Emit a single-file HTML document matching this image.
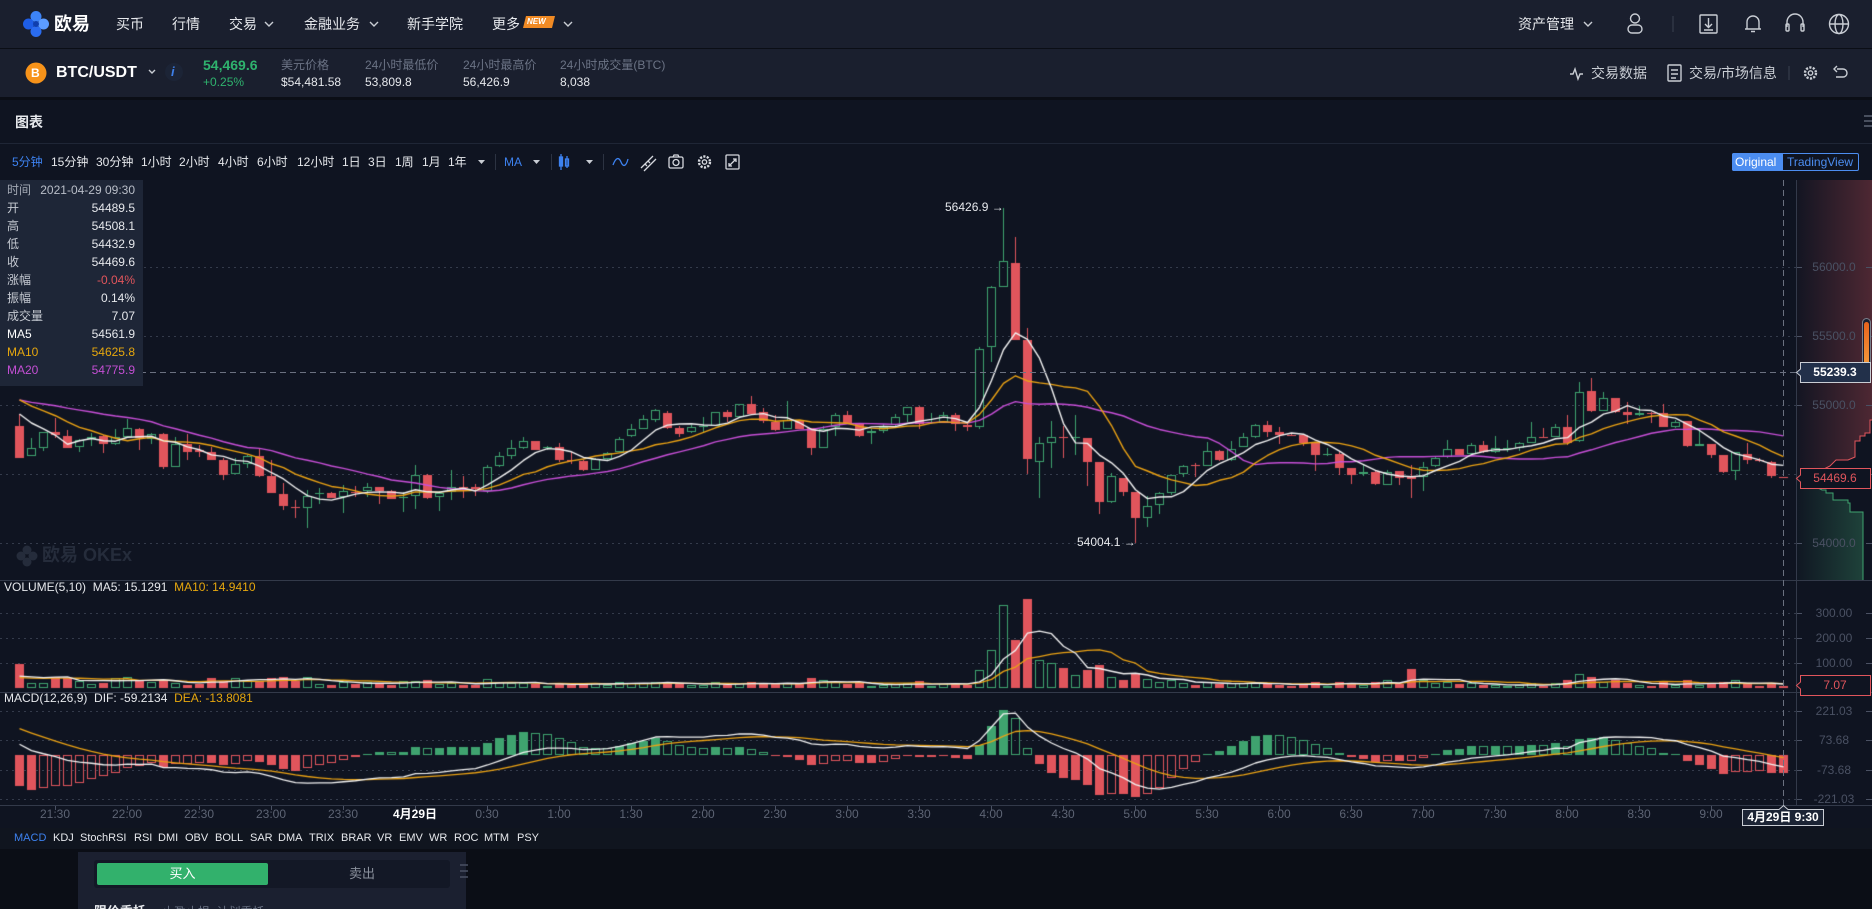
<!DOCTYPE html>
<html><head><meta charset="utf-8">
<style>
*{margin:0;padding:0;box-sizing:border-box}
html,body{width:1872px;height:909px;overflow:hidden}
body{background:#0f1421;font-family:"Liberation Sans","Noto Sans CJK SC",sans-serif;position:relative;color:#e6e8ec}
.t{position:absolute;white-space:nowrap;z-index:5}
.f12{font-size:12px;line-height:16px;height:16px}
.f11{font-size:11px;line-height:16px;height:16px}
.f14{font-size:14px;line-height:18px;height:18px}
.blk{position:absolute}
svg.ic{position:absolute;z-index:5;overflow:visible}
.gray{color:#6b7385}
.ax{color:#4a5163;width:68px;text-align:center;left:1800px}
.tm{color:#5d6474;width:60px;text-align:center;top:806px}
</style></head><body>

<!-- top nav -->
<div class="blk" style="left:0;top:0;width:1872px;height:48px;background:#1a1f2e"></div>
<div class="blk" style="left:0;top:48px;width:1872px;height:1px;background:#0b0e16"></div>
<div class="blk" style="left:0;top:49px;width:1872px;height:48px;background:#1a1f2e"></div>
<div class="blk" style="left:0;top:97px;width:1872px;height:3px;background:#0b0e16"></div>
<div class="blk" style="left:0;top:143px;width:1872px;height:1px;background:#1f2636"></div>

<svg class="ic" style="left:22px;top:10px" width="28" height="28" viewBox="0 0 28 28">
<circle cx="14" cy="6.5" r="5.5" fill="#3d84f7"/><circle cx="6.5" cy="14" r="5.5" fill="#1e5ee6"/><circle cx="21.5" cy="14" r="5.5" fill="#5c9cff"/><circle cx="14" cy="21.5" r="5.5" fill="#2a6cf0"/><circle cx="14" cy="14" r="3" fill="#0f3fae"/>
</svg>
<div class="t" style="left:54px;top:13px;font-size:18px;line-height:22px;font-weight:bold;color:#fff">欧易</div>
<div class="t f14" style="left:116px;top:15px">买币</div>
<div class="t f14" style="left:172px;top:15px">行情</div>
<div class="t f14" style="left:229px;top:15px">交易</div>
<div class="t f14" style="left:304px;top:15px">金融业务</div>
<div class="t f14" style="left:407px;top:15px">新手学院</div>
<div class="t f14" style="left:492px;top:15px">更多</div>
<svg class="ic" style="left:523px;top:16px" width="32" height="12"><path d="M3 0H32L29 12H0Z" fill="#f08a24"/></svg>
<div class="t" style="left:527px;top:17px;font-size:8px;line-height:10px;font-weight:bold;font-style:italic;color:#fff">NEW</div>
<svg class="ic" style="left:0;top:0" width="1872" height="100">
<g fill="none" stroke="#c9cdd4" stroke-width="1.4">
<path d="M265 22l4 4 4-4"/><path d="M370 22l4 4 4-4"/><path d="M564 22l4 4 4-4"/><path d="M1584 22l4 4 4-4"/>
<circle cx="1635" cy="18.5" r="4.5"/><rect x="1628" y="25" width="14" height="8" rx="4"/>
<rect x="1700" y="15" width="17" height="18" rx="1"/><path d="M1708.5 18v9M1705 24l3.5 3.5 3.5-3.5M1704 30h9"/>
<path d="M1745 29h16M1747 29v-7a6 6 0 0 1 12 0v7M1751 31.5h4"/>
<path d="M1787 27v-5a8 8 0 0 1 16 0v5"/><rect x="1786" y="24" width="3" height="7" rx="1"/><rect x="1801" y="24" width="3" height="7" rx="1"/>
<circle cx="1839" cy="24" r="9.5"/><ellipse cx="1839" cy="24" rx="4" ry="9.5"/><path d="M1829.5 24h19"/>
<path d="M149 70l3 3 3-3" />
<path d="M1570 74h3l2-5 3 10 2-5h3"/>
<rect x="1668" y="65" width="13" height="16" rx="1"/><path d="M1671 70h7M1671 74h7M1671 78h5"/>
<circle cx="1810.5" cy="73" r="5.5" stroke-dasharray="2.2 1.3" stroke-width="2.4"/><circle cx="1810.5" cy="73" r="2.2"/>
<path d="M1837 69h6a4 4 0 0 1 0 8h-7M1837 66l-3 3 3 3"/>
</g>
<path d="M1673 16v16M1789 66v14" stroke="#3a4150" stroke-width="1"/>
<circle cx="36" cy="73" r="10.5" fill="#f7931a"/>
<circle cx="174" cy="72" r="9" fill="#1c2436"/>
</svg>
<div class="t f14" style="left:1518px;top:15px">资产管理</div>
<div class="t" style="left:31px;top:65px;font-size:12px;line-height:16px;font-weight:bold;color:#fff">B</div>
<div class="t" style="left:56px;top:63px;font-size:16px;line-height:20px;font-weight:bold;color:#fff">BTC/USDT</div>
<div class="t" style="left:171px;top:64px;font-size:13px;line-height:16px;font-weight:bold;font-style:italic;color:#3d7fe8">i</div>
<div class="t" style="left:203px;top:56px;font-size:14px;line-height:18px;font-weight:bold;color:#2fb36e">54,469.6</div>
<div class="t f12" style="left:203px;top:74px;color:#2fb36e">+0.25%</div>
<div class="t f12 gray" style="left:281px;top:57px">美元价格</div>
<div class="t f12" style="left:281px;top:74px">$54,481.58</div>
<div class="t f12 gray" style="left:365px;top:57px">24小时最低价</div>
<div class="t f12" style="left:365px;top:74px">53,809.8</div>
<div class="t f12 gray" style="left:463px;top:57px">24小时最高价</div>
<div class="t f12" style="left:463px;top:74px">56,426.9</div>
<div class="t f12 gray" style="left:560px;top:57px">24小时成交量(BTC)</div>
<div class="t f12" style="left:560px;top:74px">8,038</div>
<div class="t f14" style="left:1591px;top:64px;color:#c9cdd4">交易数据</div>
<div class="t f14" style="left:1689px;top:64px;color:#c9cdd4">交易/市场信息</div>

<!-- chart header -->
<div class="t" style="left:15px;top:113px;font-size:14px;line-height:18px;font-weight:bold;color:#e6e8ec">图表</div>
<svg class="ic" style="left:1862px;top:114px" width="10" height="14"><path d="M2 2h10M2 7h10M2 12h10" stroke="#5c6373" stroke-width="1.5"/></svg>

<!-- toolbar -->
<div class="t f12" style="left:12px;top:154px;color:#3d82f0">5分钟</div>
<div class="t f12" style="left:51px;top:154px">15分钟</div>
<div class="t f12" style="left:96px;top:154px">30分钟</div>
<div class="t f12" style="left:141px;top:154px">1小时</div>
<div class="t f12" style="left:179px;top:154px">2小时</div>
<div class="t f12" style="left:218px;top:154px">4小时</div>
<div class="t f12" style="left:257px;top:154px">6小时</div>
<div class="t f12" style="left:297px;top:154px">12小时</div>
<div class="t f12" style="left:342px;top:154px">1日</div>
<div class="t f12" style="left:368px;top:154px">3日</div>
<div class="t f12" style="left:395px;top:154px">1周</div>
<div class="t f12" style="left:422px;top:154px">1月</div>
<div class="t f12" style="left:448px;top:154px">1年</div>
<div class="t f12" style="left:504px;top:154px;color:#3d82f0">MA</div>
<svg class="ic" style="left:0;top:140px" width="760" height="40">
<g fill="#c9cdd4"><path d="M478 20h7l-3.5 4z"/><path d="M533 20h7l-3.5 4z"/><path d="M586 20h7l-3.5 4z"/></g>
<path d="M495.5 14v16M551.5 14v16M603.5 14v16" stroke="#2c3342"/>
<g stroke="#3d82f0" fill="none" stroke-width="1.3"><path d="M561 14v16M567 16v12"/><rect x="559.5" y="17" width="3" height="9" fill="#3d82f0"/><rect x="565.5" y="19" width="3" height="7"/><path d="M613 25c3-8 6-8 8-3s5 5 7-3"/></g>
<g stroke="#d5d8de" fill="none" stroke-width="1.3">
<path d="M641 28l12-12M644 31l12-12M645 24l2 2M648 21l2 2"/>
<rect x="669" y="17" width="14" height="11" rx="1.5"/><circle cx="676" cy="22.5" r="3"/><path d="M673 17l1-2h4l1 2"/>
<circle cx="704.5" cy="22" r="5.5" stroke-dasharray="2.2 1.3" stroke-width="2.4"/><circle cx="704.5" cy="22" r="2.2"/>
<rect x="726" y="15" width="13" height="14" rx="1"/><path d="M729 26l7-7M733 19h3v3M729 23v3h3"/>
</g>
</svg>
<div class="blk" style="left:1732px;top:153px;width:127px;height:18px;border:1px solid #4c8df0;border-radius:2px;z-index:5"></div>
<div class="blk" style="left:1732px;top:153px;width:51px;height:18px;background:#4c8df0;border-radius:2px 0 0 2px;z-index:5"></div>
<div class="t f12" style="left:1735px;top:154px;color:#fff">Original</div>
<div class="t f12" style="left:1787px;top:154px;color:#4c8df0">TradingView</div>

<!-- static chart graphics -->
<svg class="blk" style="left:0;top:0;z-index:1" width="1872" height="909">
<defs>
<linearGradient id="rg" x1="0" x2="1" y1="0" y2="0"><stop offset="0" stop-color="#e0555c" stop-opacity="0.02"/><stop offset="1" stop-color="#e0555c" stop-opacity="0.3"/></linearGradient>
<linearGradient id="gg" x1="0" x2="1" y1="0" y2="0"><stop offset="0" stop-color="#3fa36f" stop-opacity="0.02"/><stop offset="1" stop-color="#3fa36f" stop-opacity="0.32"/></linearGradient>
<linearGradient id="og" x1="0" x2="0" y1="0" y2="1"><stop offset="0" stop-color="#e8631c"/><stop offset="0.8" stop-color="#f59a3c"/><stop offset="1" stop-color="#f7c88e"/></linearGradient>
</defs>
<path d="M1797 180H1872V420H1870V433H1865V436H1860V441H1855V457L1848 460H1836L1830 466L1822 470L1815 474L1797 478Z" fill="url(#rg)"/>
<path d="M1797 478L1807 485H1812L1822 490H1826V493H1833V500H1848V503H1850V512H1863V580H1797Z" fill="url(#gg)"/>
<path d="M1797 478L1815 474L1822 470L1830 466L1836 460H1848L1855 457V441H1860V436H1865V433H1870V420H1872" fill="none" stroke="#e0555c"/>
<path d="M1797 478L1807 485H1812L1822 490H1826V493H1833V500H1848V503H1850V512H1863V580" fill="none" stroke="#3fa36f"/>
<g stroke="#343b4b" stroke-dasharray="2 4" stroke-width="1">
<path d="M0 267.5H1797M0 336.5H1797M0 405.5H1797M0 474.5H1797M0 543.5H1797"/>
<path d="M0 613.5H1797M0 638.5H1797M0 663.5H1797"/>
<path d="M0 711.5H1797M0 740.5H1797M0 770.5H1797M0 799.5H1797"/>
</g>
<g stroke="#333a4a"><path d="M0 580.5H1872M0 692.5H1872M0 805.5H1872M1796.5 180V805"/></g>
<g stroke="#4a5163"><path d="M1866 267.5h6M1866 336.5h6M1866 405.5h6M1866 474.5h6M1866 543.5h6M1866 613.5h6M1866 638.5h6M1866 663.5h6M1866 711.5h6M1866 740.5h6M1866 770.5h6M1866 799.5h6M1797 267.5h5M1797 336.5h5M1797 405.5h5M1797 543.5h5M1797 613.5h5M1797 638.5h5M1797 663.5h5M1797 711.5h5M1797 740.5h5M1797 770.5h5M1797 799.5h5"/>
<path d="M55.5 806v4M127.5 806v4M199.5 806v4M271.5 806v4M343.5 806v4M415.5 806v4M487.5 806v4M559.5 806v4M631.5 806v4M703.5 806v4M775.5 806v4M847.5 806v4M919.5 806v4M991.5 806v4M1063.5 806v4M1135.5 806v4M1207.5 806v4M1279.5 806v4M1351.5 806v4M1423.5 806v4M1495.5 806v4M1567.5 806v4M1639.5 806v4M1711.5 806v4"/></g>
<rect x="1862.5" y="318.5" width="8" height="59" rx="4" fill="#1b2030" stroke="#7a808c"/>
<rect x="1864" y="322" width="5" height="54" rx="2.5" fill="url(#og)"/>
</svg>

<canvas id="cv" width="1872" height="909" style="position:absolute;left:0;top:0;z-index:2"></canvas>

<!-- overlays above data -->
<svg class="blk" style="left:0;top:0;z-index:4" width="1872" height="909">
<g stroke="#6b7180" stroke-dasharray="6 4"><path d="M0 372.5H1797M1783.5 180V805"/></g>
<path d="M1800.5 362.5H1870.5V382.5H1800.5V376L1796.5 372.5L1800.5 369Z" fill="#22304a" stroke="#c9cdd4"/>
<path d="M1800.5 468.5H1870.5V488.5H1800.5V482L1796.5 478.5L1800.5 475Z" fill="#0f1421" stroke="#e0555c"/>
<path d="M1800.5 675.5H1870.5V695.5H1800.5V689L1796.5 685.5L1800.5 682Z" fill="#0f1421" stroke="#e0555c"/>
<path d="M1742.5 809.5H1779L1783.5 805.5L1788 809.5H1823.5V825.5H1742.5Z" fill="#1c2435" stroke="#c9cdd4"/>
</svg>

<!-- info panel -->
<div class="blk" style="left:0;top:180px;width:143px;height:206px;background:#1e2637;z-index:5"></div>
<div class="t f12" style="left:7px;top:182px;color:#a3a9b4">时间</div><div class="t f12" style="right:1737px;top:182px;color:#b9bec8">2021-04-29 09:30</div>
<div class="t f12" style="left:7px;top:200px;color:#c5c9d1">开</div><div class="t f12" style="right:1737px;top:200px">54489.5</div>
<div class="t f12" style="left:7px;top:218px;color:#c5c9d1">高</div><div class="t f12" style="right:1737px;top:218px">54508.1</div>
<div class="t f12" style="left:7px;top:236px;color:#c5c9d1">低</div><div class="t f12" style="right:1737px;top:236px">54432.9</div>
<div class="t f12" style="left:7px;top:254px;color:#c5c9d1">收</div><div class="t f12" style="right:1737px;top:254px">54469.6</div>
<div class="t f12" style="left:7px;top:272px;color:#c5c9d1">涨幅</div><div class="t f12" style="right:1737px;top:272px;color:#e0555c">-0.04%</div>
<div class="t f12" style="left:7px;top:290px;color:#c5c9d1">振幅</div><div class="t f12" style="right:1737px;top:290px">0.14%</div>
<div class="t f12" style="left:7px;top:308px;color:#c5c9d1">成交量</div><div class="t f12" style="right:1737px;top:308px">7.07</div>
<div class="t f12" style="left:7px;top:326px;color:#fff">MA5</div><div class="t f12" style="right:1737px;top:326px">54561.9</div>
<div class="t f12" style="left:7px;top:344px;color:#e6a70e">MA10</div><div class="t f12" style="right:1737px;top:344px;color:#e6a70e">54625.8</div>
<div class="t f12" style="left:7px;top:362px;color:#c44fd4">MA20</div><div class="t f12" style="right:1737px;top:362px;color:#c44fd4">54775.9</div>

<!-- watermark -->
<svg class="blk" style="left:16px;top:545px;z-index:1" width="22" height="22"><g fill="#252c3b"><circle cx="11" cy="5" r="4.5"/><circle cx="5" cy="11" r="4.5"/><circle cx="17" cy="11" r="4.5"/><circle cx="11" cy="17" r="4.5"/></g></svg>
<div class="t" style="left:42px;top:545px;font-size:18px;line-height:20px;font-weight:bold;color:#252c3b;z-index:1">欧易 OKEx</div>

<!-- annotations -->
<div class="t f12" style="left:945px;top:199px;color:#e6e8ec">56426.9 →</div>
<div class="t f12" style="left:1077px;top:534px;color:#e6e8ec">54004.1 →</div>

<!-- axis labels -->
<div class="t f12 ax" style="top:259px">56000.0</div>
<div class="t f12 ax" style="top:328px">55500.0</div>
<div class="t f12 ax" style="top:397px">55000.0</div>
<div class="t f12 ax" style="top:535px">54000.0</div>
<div class="t f12" style="left:1800px;width:70px;text-align:center;top:364px;color:#fff;font-weight:bold">55239.3</div>
<div class="t f12" style="left:1800px;width:70px;text-align:center;top:470px;color:#e0555c">54469.6</div>
<div class="t f12 ax" style="top:605px">300.00</div>
<div class="t f12 ax" style="top:630px">200.00</div>
<div class="t f12 ax" style="top:655px">100.00</div>
<div class="t f12" style="left:1800px;width:70px;text-align:center;top:677px;color:#e0555c">7.07</div>
<div class="t f12 ax" style="top:703px">221.03</div>
<div class="t f12 ax" style="top:732px">73.68</div>
<div class="t f12 ax" style="top:762px">-73.68</div>
<div class="t f12 ax" style="top:791px">-221.03</div>

<!-- panel titles -->
<div class="t f12" style="left:4px;top:579px">VOLUME(5,10)&nbsp;&nbsp;MA5: 15.1291&nbsp;&nbsp;<span style="color:#e6a70e">MA10: 14.9410</span></div>
<div class="t f12" style="left:4px;top:690px">MACD(12,26,9)&nbsp;&nbsp;DIF: -59.2134&nbsp;&nbsp;<span style="color:#e6a70e">DEA: -13.8081</span></div>

<!-- time axis -->
<div class="t f12 tm" style="left:25px">21:30</div>
<div class="t f12 tm" style="left:97px">22:00</div>
<div class="t f12 tm" style="left:169px">22:30</div>
<div class="t f12 tm" style="left:241px">23:00</div>
<div class="t f12 tm" style="left:313px">23:30</div>
<div class="t f12 tm" style="left:385px;color:#fff;font-weight:bold">4月29日</div>
<div class="t f12 tm" style="left:457px">0:30</div>
<div class="t f12 tm" style="left:529px">1:00</div>
<div class="t f12 tm" style="left:601px">1:30</div>
<div class="t f12 tm" style="left:673px">2:00</div>
<div class="t f12 tm" style="left:745px">2:30</div>
<div class="t f12 tm" style="left:817px">3:00</div>
<div class="t f12 tm" style="left:889px">3:30</div>
<div class="t f12 tm" style="left:961px">4:00</div>
<div class="t f12 tm" style="left:1033px">4:30</div>
<div class="t f12 tm" style="left:1105px">5:00</div>
<div class="t f12 tm" style="left:1177px">5:30</div>
<div class="t f12 tm" style="left:1249px">6:00</div>
<div class="t f12 tm" style="left:1321px">6:30</div>
<div class="t f12 tm" style="left:1393px">7:00</div>
<div class="t f12 tm" style="left:1465px">7:30</div>
<div class="t f12 tm" style="left:1537px">8:00</div>
<div class="t f12 tm" style="left:1609px">8:30</div>
<div class="t f12 tm" style="left:1681px">9:00</div>
<div class="t f12" style="left:1743px;width:80px;text-align:center;top:809px;color:#fff;font-weight:bold">4月29日 9:30</div>

<!-- indicator tabs -->
<div class="blk" style="left:0;top:828px;width:1872px;height:21px;background:#10151f"></div>
<div class="t f11" style="left:14px;top:830px;color:#3d82f0">MACD</div>
<div class="t f11" style="left:53px;top:830px">KDJ</div>
<div class="t f11" style="left:80px;top:830px">StochRSI</div>
<div class="t f11" style="left:134px;top:830px">RSI</div>
<div class="t f11" style="left:158px;top:830px">DMI</div>
<div class="t f11" style="left:185px;top:830px">OBV</div>
<div class="t f11" style="left:215px;top:830px">BOLL</div>
<div class="t f11" style="left:250px;top:830px">SAR</div>
<div class="t f11" style="left:278px;top:830px">DMA</div>
<div class="t f11" style="left:309px;top:830px">TRIX</div>
<div class="t f11" style="left:341px;top:830px">BRAR</div>
<div class="t f11" style="left:377px;top:830px">VR</div>
<div class="t f11" style="left:399px;top:830px">EMV</div>
<div class="t f11" style="left:429px;top:830px">WR</div>
<div class="t f11" style="left:454px;top:830px">ROC</div>
<div class="t f11" style="left:484px;top:830px">MTM</div>
<div class="t f11" style="left:517px;top:830px">PSY</div>

<!-- bottom trade panel -->
<div class="blk" style="left:0;top:849px;width:1872px;height:60px;background:#0b0e16"></div>
<div class="blk" style="left:78px;top:852px;width:388px;height:57px;background:#1b2030"></div>
<div class="blk" style="left:94px;top:860px;width:356px;height:28px;background:#131826;border-radius:3px"></div>
<div class="blk" style="left:97px;top:863px;width:171px;height:22px;background:#32b16c;border-radius:2px"></div>
<div class="t" style="left:97px;top:865px;width:171px;text-align:center;font-size:13px;line-height:18px;color:#fff">买入</div>
<div class="t" style="left:336px;top:865px;width:52px;text-align:center;font-size:13px;line-height:18px;color:#8a909c">卖出</div>
<svg class="ic" style="left:460px;top:862px" width="8" height="18"><path d="M0 3h8M0 9h8M0 15h8" stroke="#4a5163" stroke-width="1.5"/></svg>
<div class="t" style="left:94px;top:903px;font-size:13px;line-height:18px;font-weight:bold;color:#e6e8ec">限价委托</div>
<div class="t" style="left:162px;top:903px;font-size:12px;line-height:18px;color:#6b7385">止盈止损&nbsp;&nbsp;计划委托</div>

<script>
(function(){
var D=[[426,457.7,414.3,458.3],[456.3,448.3,438.3,456.3],[448.3,432.3,431.7,450.7],[432.3,435,417.7,438.3],[436,448,430,448.3],[447.3,440.3,439,451.7],[439,436.7,433.3,445.7],[436,443.7,435,452.7],[443.7,437.3,429,445.3],[436.7,428.3,419,437.7],
[429,437.7,428.3,449.7],[439.3,434.3,433.3,444],[434.3,466.7,433.3,469.3],[466.7,444.3,436.7,466.7],[444.3,451.7,434.3,459.7],[450,451.7,445,457.3],[452,459.7,446.7,460.3],[460,474.7,458.3,479.7],[474.3,464.3,458.3,474.3],[464.3,456.3,455,468.3],
[456.3,475.7,448.3,476.7],[476,492.7,460,492.7],[494,505.7,482.7,510],[507,508.3,500,517.7],[508.3,496,490,528.3],[494.3,493,488.3,504.3],[492.7,497.7,491.7,498.3],[496.7,491.3,485,512.7],[491.7,492.7,486,497],[490.7,487.3,483,496.7],
[487.3,490.7,486.7,503.7],[491,498.7,490.3,499.3],[498.3,497,491.7,512.3],[496.3,475,465,508.7],[475,497.7,474.3,499.3],[497.3,492.7,490.7,510.7],[492.3,487.3,470.3,500],[487,488.3,476,498.3],[487,489,484,496.3],[491,467.3,465,492.7],
[466.3,456.3,451.7,467],[455.7,448.3,440,459],[447.7,441.3,436.7,449],[441,450,441,450],[448.3,447,446,450],[447,459.7,443.3,462.3],[459.7,461,451.7,464],[461,469.7,460,470.7],[469.7,459,458.3,469.7],[459.3,453.3,452,459.7],
[452,439.3,436.7,452],[436.3,428.7,424,436.7],[428.7,419.3,415,429.3],[420.3,410.3,408.7,421.7],[413,428,411,428.7],[428,433.7,426,436.7],[432.3,427.3,425,433.3],[427.3,425.7,417.3,433.3],[425.7,412.3,412.3,425.7],[412,416.7,410,421.7],
[416.7,404.3,404,416.7],[404,414,396,414.3],[412.3,420.7,408.3,422.7],[421.7,430,415,430.7],[429.3,420,401,429.3],[420.7,429,420,429.3],[428.3,447.7,428.3,454.7],[447.7,429.3,426,447.7],[426.7,415.3,413.3,435.7],[415.3,422.7,411.3,423.3],
[424.3,435.7,422.7,436.7],[433.3,431.3,429,444],[430.7,426.7,423.7,432.7],[425.3,416.7,414,426.7],[415.3,407.3,407.3,421.7],[407.3,424.3,406,429],[423,422,413.3,424],[422,415.3,411.7,422.7],[415.3,424.3,413.3,430.7],[425,426.7,422.7,430.7],
[426.7,349.3,346.7,428.7],[347.3,287.3,286.3,361.7],[286.7,261.3,208.3,286.7],[263,340,237.3,340],[340,459.3,327.7,474],[461.7,443.3,437.3,497.7],[443.3,437.3,421,467.7],[437.3,438,425.7,457.7],[437.3,436.7,415.3,455],[438,461.7,438,485.7],
[462,501.7,462,514.3],[501.7,476,472.7,503.3],[478,491.7,478,495.7],[492,517.7,492,542.7],[517.7,506,496,527.3],[505.3,493.3,492.3,513.7],[492.7,475.3,475.3,495.3],[474.3,465.7,465.3,477.3],[465,466,463.3,476.7],[465.7,451.3,442,465.7],
[451.3,460,450,460.7],[460,448.7,441,460.7],[446.7,437.3,433.3,447.3],[436.7,425.3,424.3,437.7],[425.3,432,421,437.3],[432,434.7,427.3,444.3],[434.7,435.7,433.3,436],[435,443.3,435,446],[443.3,454.7,443.3,470.7],[455,454,448,456],
[454.3,467.7,451.7,475],[467.7,474.7,467.7,483.7],[474.3,472.3,465,476],[472.3,483.7,470,485],[485.3,471.7,470,485.3],[471,477.7,471,485],[476.7,478.7,465,498.3],[477.3,466.7,461.7,490.7],[465.7,457.7,456.7,466.7],[457.3,448.7,440,458.3],
[448.7,454.7,448.7,455.3],[453.7,444.7,443.3,454],[445.3,452,441,453.3],[452.3,448.3,436,452.7],[449,448.3,440,451.7],[448.3,443.3,441.7,451],[442.7,437,421.7,443.3],[437.3,438,428.3,438.3],[436.7,427.3,424,437.3],[427.3,442.7,415,445],
[441.3,391.7,382.3,442],[391.3,410.7,378,411.7],[410.7,398.3,391.7,410.7],[398.3,412,398.3,412.7],[412,415.3,402,424],[415,413.3,406,415.7],[413,413.7,411.7,423.3],[413.3,426.7,404,427.3],[426.7,421.7,420,428.3],[421,446,421,447.3],
[445.7,444.3,430,446],[444,454.7,444,458.3],[454.7,471.7,454.7,473.3],[471.3,452.3,452,480],[454.3,460,443.3,464],[460,461,458.3,461.7],[462,476,461,477.7],[476.7,477.7,476.7,477.7]];
var V=[97,20,20,44,40,29,16,20,40,44,29,23,29,20,13,16,40,29,41,29,29,40,44,29,44,16,13,25,16,25,16,13,29,29,
30,15,18,12,10,35,25,20,18,15,8,20,10,18,20,12,25,18,20,22,25,15,12,10,22,12,20,22,15,18,20,15,40,30,22,15,20,8,10,15,18,28,8,15,18,12,
70,150,330,190,356,110,100,80,50,70,90,45,30,60,35,25,30,20,10,
25,15,20,18,22,15,12,8,15,25,8,25,20,10,25,30,15,76,30,20,25,15,18,12,10,8,12,20,8,20,30,55,45,25,30,18,10,8,22,12,30,10,18,25,30,15,8,20,7.07];
var cv=document.getElementById('cv'),g=cv.getContext('2d');
var GR='#3fa36f',RD='#e0555c',N=D.length;
function X(i){return 19+12*i;}
function isUp(i){return D[i][1]<D[i][0];}
function poly(arr,col,w){g.strokeStyle=col;g.lineWidth=w;g.lineJoin='round';g.beginPath();for(var i=0;i<arr.length;i++){var x=X(i)+0.5;if(i==0)g.moveTo(x,arr[i]);else g.lineTo(x,arr[i]);}g.stroke();}
g.save();g.beginPath();g.rect(0,180,1796,400);g.clip();
for(var i=0;i<N;i++){var o=D[i][0],c=D[i][1],h=Math.round(D[i][2]),l=Math.round(D[i][3]),x=X(i);
var top=Math.round(Math.min(o,c)),bot=Math.round(Math.max(o,c));if(bot-top<1)bot=top+1;
if(h>top)h=top;if(l<bot)l=bot;
if(isUp(i)){g.fillStyle=GR;g.strokeStyle=GR;g.lineWidth=1;
if(h<top)g.fillRect(x,h,1,top-h);if(l>bot)g.fillRect(x,bot,1,l-bot);
if(bot-top<=2)g.fillRect(x-4,top,9,bot-top);else g.strokeRect(x-3.5,top+0.5,8,bot-top-1);}
else{g.fillStyle=RD;g.fillRect(x,h,1,l-h);g.fillRect(x-4,top,9,bot-top);}}
var pre=[400,400,400,400,400,400,400,400,400,400,386,386,386,386,386,403,403,403,403];
var C=pre.slice();for(var i=0;i<N;i++)C.push(D[i][1]);
function ma(A,off,n){var r=[];for(var i=0;i<N;i++){var s=0;for(var k=0;k<n;k++)s+=A[i+off-k];r.push(s/n);}return r;}
poly(ma(C,19,20),'#c84fd8',1.4);
poly(ma(C,19,10),'#eca313',1.4);
poly(ma(C,19,5),'#f2f2f2',1.4);
g.restore();
g.save();g.beginPath();g.rect(0,581,1796,111);g.clip();
var VB=688;
for(var i=0;i<N;i++){var hh=Math.max(1,Math.round(V[i]*0.25)),x=X(i);
if(isUp(i)){g.fillStyle=GR;g.strokeStyle=GR;g.lineWidth=1;if(hh<=2)g.fillRect(x-4,VB-hh,9,hh);else g.strokeRect(x-3.5,VB-hh+0.5,8,hh-1);}
else{g.fillStyle=RD;g.fillRect(x-4,VB-hh,9,hh);}}
var VP=[35,35,35,35,35,35,35,35,35].concat(V);
var m5=ma(VP,9,5).map(function(v){return VB-v*0.25;}),m10=ma(VP,9,10).map(function(v){return VB-v*0.25;});
poly(m10,'#eca313',1.3);poly(m5,'#f2f2f2',1.3);
g.restore();
g.save();g.beginPath();g.rect(0,693,1796,112);g.clip();
var e12=55110,e26=55010,dea=150,prev=null,DIF=[],DEA=[],Z=755,S=0.2016;
for(var i=0;i<N;i++){var p=55000+(405.3-D[i][1])/0.138;e12+=(p-e12)*2/13;e26+=(p-e26)*2/27;var dif=e12-e26;dea+=(dif-dea)*0.2;var hv=2*(dif-dea);
DIF.push(Z-dif*S);DEA.push(Z-dea*S);var x=X(i),ph=Math.max(1,Math.round(Math.abs(hv)*S));
var filled=(prev===null)||(hv>=0?hv>prev:hv<prev);
if(hv>=0){g.fillStyle=GR;g.strokeStyle=GR;g.lineWidth=1;if(filled||ph<=2)g.fillRect(x-4,Z-ph,9,ph);else g.strokeRect(x-3.5,Z-ph+0.5,8,ph-1);}
else{g.fillStyle=RD;g.strokeStyle=RD;g.lineWidth=1;if(filled||ph<=2)g.fillRect(x-4,Z,9,ph);else g.strokeRect(x-3.5,Z+0.5,8,ph-1);}
prev=hv;}
poly(DEA,'#eca313',1.3);poly(DIF,'#f2f2f2',1.3);
g.restore();
})();
</script>
</body></html>
